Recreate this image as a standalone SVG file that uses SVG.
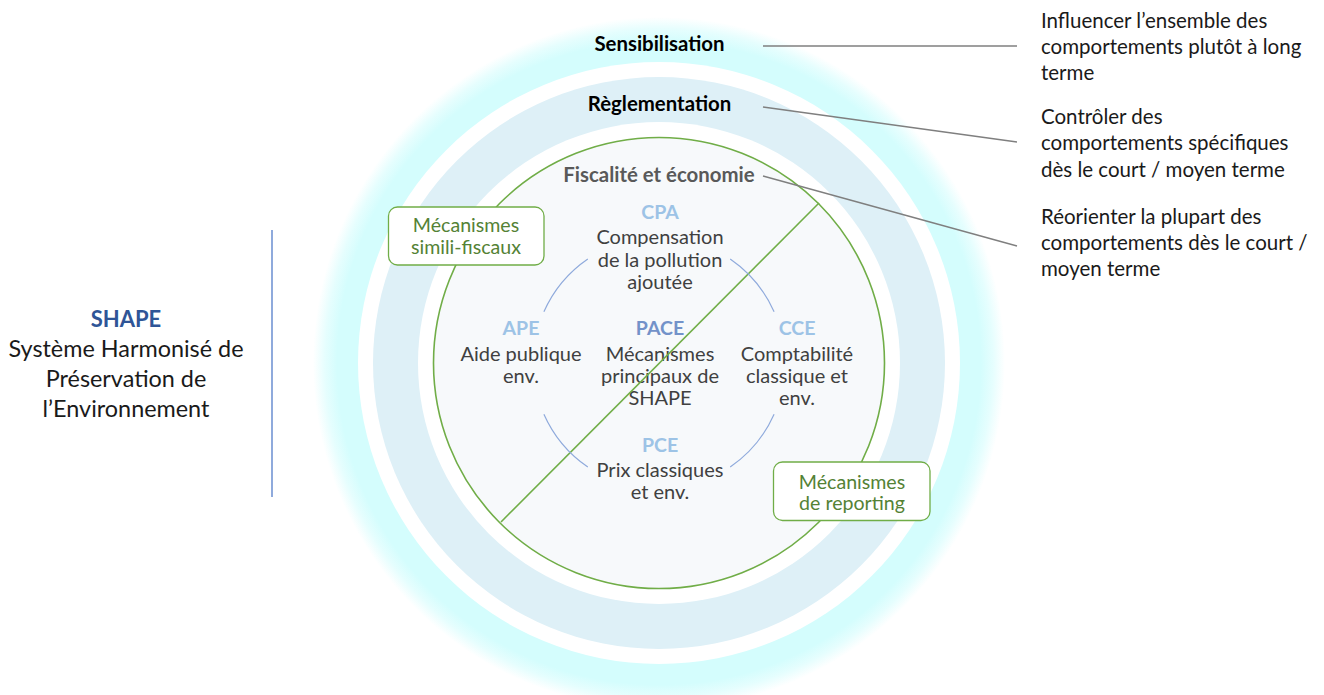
<svg xmlns="http://www.w3.org/2000/svg" width="1324" height="695" viewBox="0 0 1324 695">
<defs>
<radialGradient id="glow" gradientUnits="userSpaceOnUse" cx="659" cy="363" r="346">
<stop offset="0.85" stop-color="#D4FDFD" stop-opacity="1"/>
<stop offset="0.93" stop-color="#D4FDFD" stop-opacity="1"/>
<stop offset="0.965" stop-color="#D4FDFD" stop-opacity="0.6"/>
<stop offset="1" stop-color="#D4FDFD" stop-opacity="0"/>
</radialGradient>
<style>
text{font-family:Lato,"Open Sans","Liberation Sans",sans-serif}
.ring-t{font-size:20.4px;font-weight:bold;text-anchor:middle;fill:#000}
.abbr{font-size:19.5px;font-weight:bold;text-anchor:middle;fill:#9DC3E6}
.abbr2{font-size:19.5px;font-weight:bold;text-anchor:middle;fill:#7392C9}
.body{font-size:20px;text-anchor:middle;fill:#404040}
.box{fill:#fff;stroke:#70AD47;stroke-width:1.3}
.boxt{font-size:19.6px;text-anchor:middle;fill:#548235}
.desc{font-size:20.5px;fill:#1a1a1a}
.lead{stroke:#7F7F7F;stroke-width:1.3;fill:none}
.arc{stroke:#8FAADC;stroke-width:1.2;fill:none}
</style>
</defs>

<g id="rings">
<circle cx="659" cy="363" r="346" fill="url(#glow)"/>
<circle cx="659" cy="363" r="301" fill="#fff"/>
<circle cx="659" cy="363" r="286" fill="#DEF0F7"/>
<circle cx="659" cy="363" r="241" fill="#fff"/>
<circle cx="659" cy="363" r="225.5" fill="#F7F9FB" stroke="#70AD47" stroke-width="1.6"/>
</g>

<g id="shape-label">
<text x="126" y="327" style="font-size:22px;font-weight:bold;fill:#2F5597;text-anchor:middle">SHAPE</text>
<text x="126" y="357" style="font-size:23.4px;fill:#1a1a1a;text-anchor:middle">Système Harmonisé de</text>
<text x="126" y="387" style="font-size:23.4px;fill:#1a1a1a;text-anchor:middle">Préservation de</text>
<text x="126" y="417" style="font-size:23.4px;fill:#1a1a1a;text-anchor:middle">l’Environnement</text>
<line x1="272" y1="230" x2="272" y2="497" stroke="#8FAADC" stroke-width="2"/>
</g>

<g id="sensibilisation"><text class="ring-t" x="659.5" y="51">Sensibilisation</text></g>
<g id="reglementation"><text class="ring-t" x="659.5" y="111">Règlementation</text></g>
<g id="fiscalite"><text class="ring-t" x="659" y="182" style="fill:#595959">Fiscalité et économie</text></g>

<g id="cpa">
<text class="abbr" x="660" y="219">CPA</text>
<text class="body" x="660" y="244">Compensation</text>
<text class="body" x="660" y="267">de la pollution</text>
<text class="body" x="660" y="289">ajoutée</text>
</g>
<g id="ape">
<text class="abbr" x="521" y="335">APE</text>
<text class="body" x="521" y="361">Aide publique</text>
<text class="body" x="521" y="383">env.</text>
</g>
<g id="pace">
<text class="abbr2" x="660" y="335">PACE</text>
<text class="body" x="660" y="361">Mécanismes</text>
<text class="body" x="660" y="383">principaux de</text>
<text class="body" x="660" y="405">SHAPE</text>
</g>
<g id="cce">
<text class="abbr" x="797" y="335">CCE</text>
<text class="body" x="797" y="361">Comptabilité</text>
<text class="body" x="797" y="383">classique et</text>
<text class="body" x="797" y="405">env.</text>
</g>
<g id="pce">
<text class="abbr" x="660" y="452">PCE</text>
<text class="body" x="660" y="477">Prix classiques</text>
<text class="body" x="660" y="499">et env.</text>
</g>

<g id="connectors">
<line x1="819" y1="203" x2="501" y2="522" stroke="#70AD47" stroke-width="1.6"/>
<path class="arc" d="M543.9 311.8 A126 126 0 0 1 587.8 259"/>
<path class="arc" d="M730.2 259 A126 126 0 0 1 774.1 311.8"/>
<path class="arc" d="M774.1 414.2 A126 126 0 0 1 730.2 467"/>
<path class="arc" d="M587.8 467 A126 126 0 0 1 543.9 414.2"/>
<line class="lead" x1="763" y1="46" x2="1017" y2="46"/>
<line class="lead" x1="763" y1="107" x2="1017" y2="142"/>
<line class="lead" x1="763" y1="176" x2="1017" y2="246"/>
</g>

<g id="box-simili">
<rect class="box" x="388.5" y="207" width="155.5" height="58" rx="9"/>
<text class="boxt" x="466" y="232">Mécanismes</text>
<text class="boxt" x="466" y="254">simili-fiscaux</text>
</g>
<g id="box-reporting">
<rect class="box" x="773.5" y="462" width="156.5" height="58.5" rx="9"/>
<text class="boxt" x="852" y="489">Mécanismes</text>
<text class="boxt" x="852" y="510">de reporting</text>
</g>

<g id="desc-sensibilisation">
<text class="desc" x="1041" y="28">Influencer l’ensemble des</text>
<text class="desc" x="1041" y="54">comportements plutôt à long</text>
<text class="desc" x="1041" y="80">terme</text>
</g>
<g id="desc-reglementation">
<text class="desc" x="1041" y="124">Contrôler des</text>
<text class="desc" x="1041" y="150">comportements spécifiques</text>
<text class="desc" x="1041" y="177">dès le court / moyen terme</text>
</g>
<g id="desc-fiscalite">
<text class="desc" x="1041" y="224">Réorienter la plupart des</text>
<text class="desc" x="1041" y="250">comportements dès le court /</text>
<text class="desc" x="1041" y="276">moyen terme</text>
</g>
</svg>
